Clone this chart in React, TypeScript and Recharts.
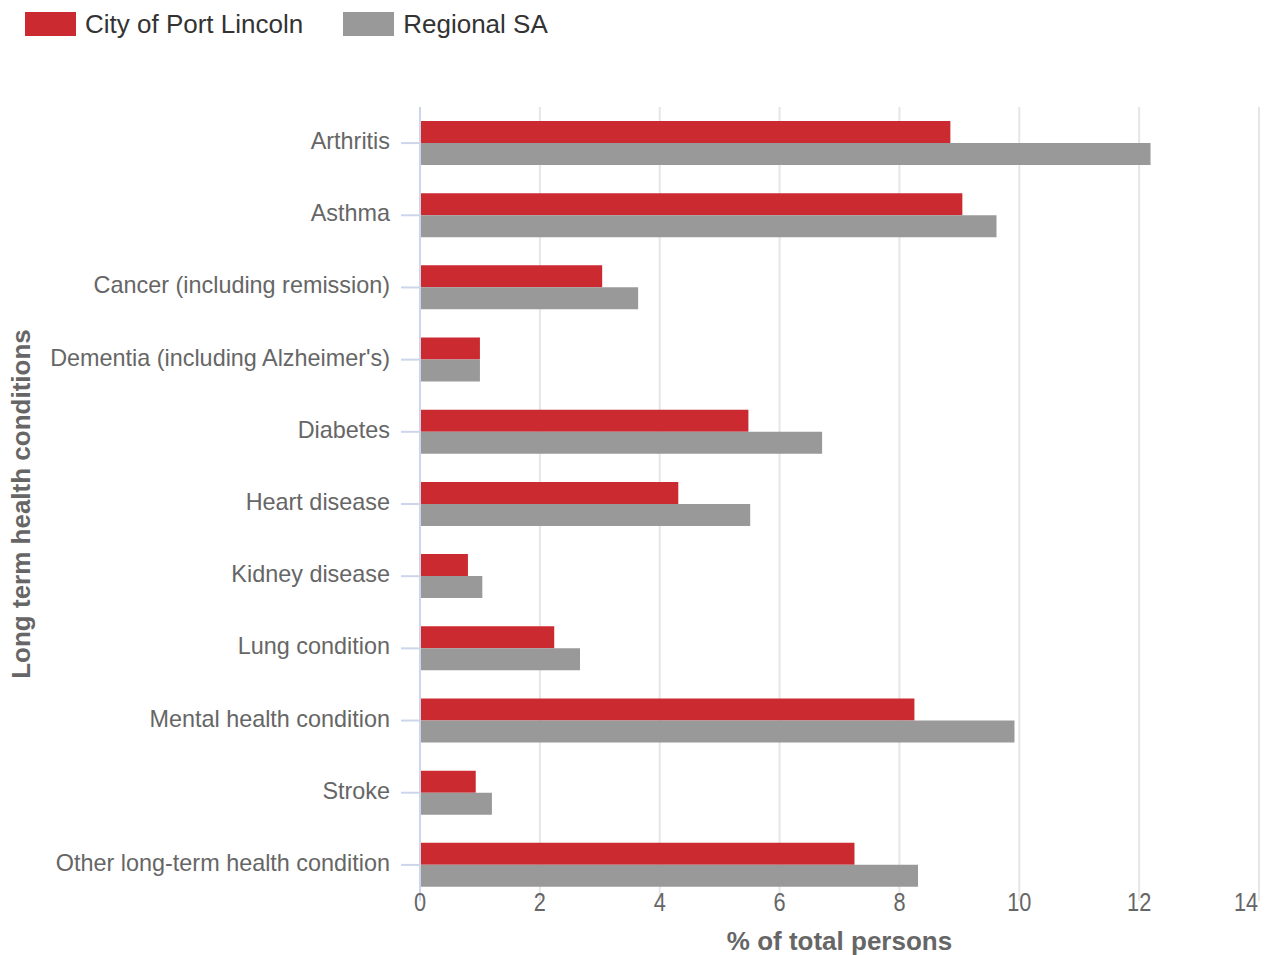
import React from "react";
import { BarChart, Bar, XAxis, YAxis, CartesianGrid } from "recharts";

const categories = [
  "Arthritis",
  "Asthma",
  "Cancer (including remission)",
  "Dementia (including Alzheimer's)",
  "Diabetes",
  "Heart disease",
  "Kidney disease",
  "Lung condition",
  "Mental health condition",
  "Stroke",
  "Other long-term health condition",
];
const portLincoln = [8.85, 9.05, 3.04, 1.0, 5.48, 4.31, 0.8, 2.24, 8.25, 0.93, 7.25];
const regionalSA = [12.19, 9.62, 3.64, 1.0, 6.71, 5.51, 1.04, 2.67, 9.92, 1.2, 8.31];
const xTicks = [0, 2, 4, 6, 8, 10, 12, 14];

const series = [
  { key: "portLincoln", name: "City of Port Lincoln", color: "#cc2a31" },
  { key: "regionalSA", name: "Regional SA", color: "#999999" },
];

const data = categories.map((name, i) => ({
  name,
  portLincoln: portLincoln[i],
  regionalSA: regionalSA[i],
}));

const FONT = '"Liberation Sans", Arial, sans-serif';
const CHART_W = 1270;

const XTick = (props: any) => {
  const { x, y, payload } = props;
  const halfW = String(payload.value).length * 6;
  const cx = Math.min(x, CHART_W - 12 - halfW);
  return (
    <text
      x={0}
      y={0}
      transform={`translate(${cx}, ${y + 1}) scale(0.87, 1)`}
      textAnchor="middle"
      dominantBaseline="central"
      fill="#666666"
      fontSize={25}
      fontFamily={FONT}
    >
      {payload.value}
    </text>
  );
};

const YTick = (props: any) => {
  const { x, y, payload } = props;
  return (
    <text x={x} y={y - 2} textAnchor="end" dominantBaseline="central" fill="#666666" fontSize={23.4} fontFamily={FONT}>
      {payload.value}
    </text>
  );
};

export default function App() {
  return (
    <div style={{ position: "absolute", left: 0, top: 0, width: CHART_W, height: 955, background: "#fff" }}>
      <div style={{ position: "absolute", left: 25, top: 12, display: "flex", alignItems: "center", fontFamily: FONT, fontSize: 26, color: "#333333" }}>
        {series.map((s, i) => (
          <div key={s.key} style={{ display: "flex", alignItems: "center", marginRight: i === 0 ? 40 : 0 }}>
            <div style={{ width: 51, height: 24, background: s.color, marginRight: 9 }} />
            <span style={{ lineHeight: "24px" }}>{s.name}</span>
          </div>
        ))}
      </div>
      <BarChart
        width={CHART_W}
        height={955}
        data={data}
        layout="vertical"
        margin={{ top: 107, right: 11, bottom: 0, left: 0 }}
        barCategoryGap={14}
        barGap={0}
      >
        <CartesianGrid horizontal={false} vertical={true} stroke="#e6e6e6" strokeWidth={2} />
        <XAxis
          type="number"
          domain={[0, 14]}
          ticks={xTicks}
          height={54}
          axisLine={false}
          tickLine={false}
          tickSize={0}
          tickMargin={0}
          tick={<XTick />}
          interval={0}
          label={{
            content: (p: any) => {
              const vb = p.viewBox;
              return (
                <text x={vb.x + vb.width / 2} y={941} textAnchor="middle" dominantBaseline="central" fill="#666666" fontSize={26} fontWeight="bold" fontFamily={FONT}>
                  % of total persons
                </text>
              );
            },
          }}
        />
        <YAxis
          type="category"
          dataKey="name"
          width={420}
          interval={0}
          tickSize={19}
          tickMargin={11}
          axisLine={{ stroke: "#ccd6eb", strokeWidth: 2 }}
          tickLine={{ stroke: "#ccd6eb", strokeWidth: 2 }}
          tick={<YTick />}
          label={{
            content: (p: any) => {
              const vb = p.viewBox;
              const cy = vb.y + vb.height / 2;
              return (
                <text x={21} y={cy} transform={`rotate(-90, 21, ${cy})`} textAnchor="middle" dominantBaseline="central" fill="#666666" fontSize={26} fontWeight="bold" fontFamily={FONT}>
                  Long term health conditions
                </text>
              );
            },
          }}
        />
        {series.map((s) => (
          <Bar key={s.key} dataKey={s.key} name={s.name} fill={s.color} isAnimationActive={false} />
        ))}
      </BarChart>
    </div>
  );
}
